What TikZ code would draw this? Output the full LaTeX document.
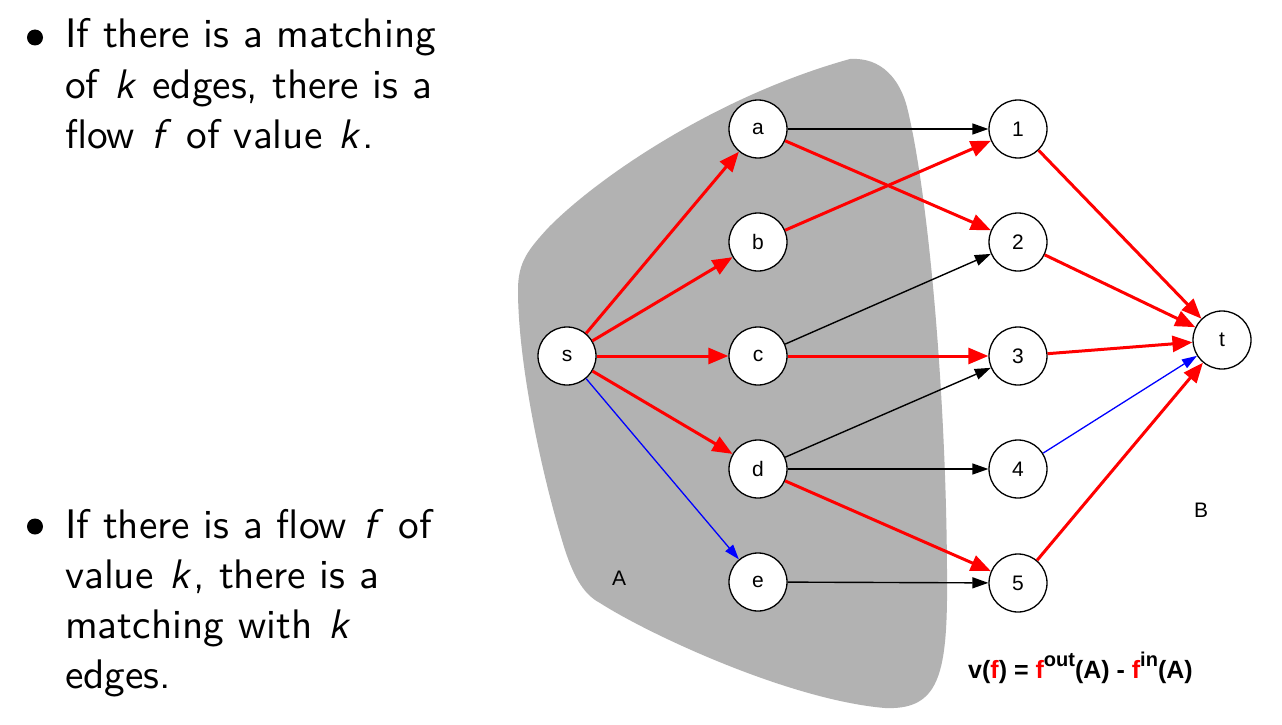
\documentclass[tikz,border=0pt]{standalone}
\usepackage{fontspec}
\newfontfamily\arialfont{Liberation Sans}
\newfontfamily\slidefont{lmsans10-regular.otf}[ItalicFont=lmsans10-oblique.otf]
\newcommand\mvar[1]{\hspace{2.5pt}\textit{#1}\hspace{1.5pt}}
\usetikzlibrary{arrows.meta}
\definecolor{regiongray}{RGB}{178,178,178}
\definecolor{flowred}{RGB}{255,0,0}
\definecolor{flowblue}{RGB}{0,0,255}
\begin{document}
\begin{tikzpicture}[x=1pt,y=-1pt,
  vertex/.style={circle,draw=black,line width=1.3pt,fill=white,minimum size=58pt,inner sep=0pt,font=\arialfont\fontsize{21}{21}\selectfont},
  flow/.style={draw=flowred,line width=3pt,-{Triangle[length=20pt,width=16pt]}},
  plain/.style={draw=black,line width=1.4pt,-{Triangle[length=16pt,width=11pt]}},
  back/.style={draw=flowblue,line width=1.3pt,-{Triangle[length=15pt,width=10pt]}},
  bullettext/.style={anchor=base west,inner sep=0pt,font=\slidefont\fontsize{41.3}{50}\selectfont},
  bulletdot/.style={circle,fill=black,minimum size=16pt,inner sep=0pt},
  setlabel/.style={inner sep=0pt,font=\arialfont\fontsize{21}{21}\selectfont},
]
\useasboundingbox (0,0) rectangle (1282,725);
\fill[white] (0,0) rectangle (1282,725);

% region A
\fill[regiongray] (850,59) .. controls (882,57) and (900,80) .. (907,107)
  .. controls (930,200) and (948,420) .. (947,600)
  .. controls (946,680) and (935,710) .. (885,708)
  .. controls (790,700) and (650,635) .. (600,603)
  .. controls (585,595) and (575,580) .. (565,550)
  .. controls (540,470) and (518,360) .. (518,290)
  .. controls (518,262) and (528,250) .. (548,228)
  .. controls (600,175) and (720,95) .. (850,59) -- cycle;

% bullet text
\node[bulletdot] (b1) at (35,37.5) {};
\node[bullettext] (l1) at (65,48) {If there is a matching};
\node[bullettext] (l2) at (65,98) {of \mvar{k} edges, there is a};
\node[bullettext] (l3) at (65,148) {flow \mvar{f} of value \mvar{k}.};
\node[bulletdot] (b2) at (35,526.5) {};
\node[bullettext] (l4) at (65,538) {If there is a flow \mvar{f} of};
\node[bullettext] (l5) at (65,588) {value \mvar{k}, there is a};
\node[bullettext] (l6) at (65,638) {matching with \mvar{k}};
\node[bullettext] (l7) at (65,688) {edges.};

% vertices
\node[vertex] (s) at (567,356) {s};
\node[vertex] (a) at (758,129) {a};
\node[vertex] (b) at (758,242) {b};
\node[vertex] (c) at (758,356) {c};
\node[vertex] (d) at (758,469) {d};
\node[vertex] (e) at (758,582) {e};
\node[vertex] (n1) at (1018,129) {1};
\node[vertex] (n2) at (1018,242) {2};
\node[vertex] (n3) at (1018,356) {3};
\node[vertex] (n4) at (1018,469) {4};
\node[vertex] (n5) at (1018,583) {5};
\node[vertex] (t) at (1222,340) {t};

% edges
\draw[flow] (s) -- (a);
\draw[flow] (s) -- (b);
\draw[flow] (s) -- (c);
\draw[flow] (s) -- (d);
\draw[back] (s) -- (e);
\draw[plain] (a) -- (n1);
\draw[flow] (a) -- (n2);
\draw[flow] (b) -- (n1);
\draw[plain] (c) -- (n2);
\draw[flow] (c) -- (n3);
\draw[plain] (d) -- (n3);
\draw[plain] (d) -- (n4);
\draw[flow] (d) -- (n5);
\draw[plain] (e) -- (n5);
\draw[flow] (n1) -- (t);
\draw[flow] (n2) -- (t);
\draw[flow] (n3) -- (t);
\draw[back] (n4) -- (t);
\draw[flow] (n5) -- (t);

% labels
\node[setlabel] (labA) at (619,578) {A};
\node[setlabel] (labB) at (1201,510) {B};
\node[anchor=base west,inner sep=0pt,font=\arialfont\bfseries\fontsize{25}{25}\selectfont] (formula) at (968,678)
  {v(\textcolor{flowred}{f}) = \textcolor{flowred}{f}\raisebox{12pt}{\fontsize{20}{20}\selectfont out}(A) - \textcolor{flowred}{f}\raisebox{12pt}{\fontsize{20}{20}\selectfont in}(A)};
\end{tikzpicture}
\end{document}
